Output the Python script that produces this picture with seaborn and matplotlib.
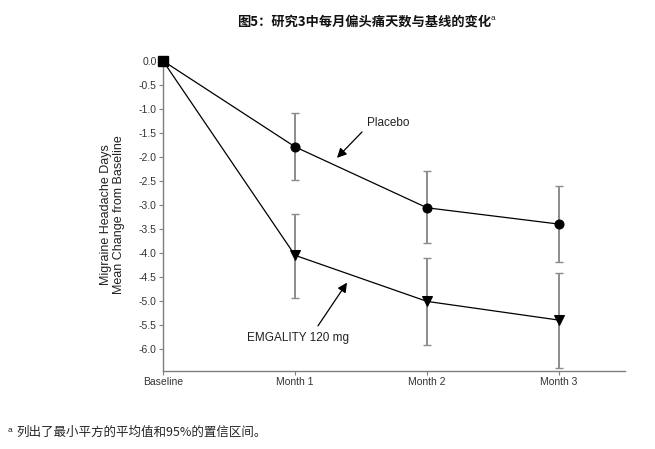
import matplotlib
matplotlib.use("Agg")
import matplotlib.pyplot as plt
import seaborn as sns
import pandas as pd

# Data
visits = ["Baseline", "Month 1", "Month 2", "Month 3"]
placebo_mean = [0.0, -1.79, -3.06, -3.40]
placebo_upper = [0.0, -1.08, -2.29, -2.60]
placebo_lower = [0.0, -2.49, -3.79, -4.18]
emg_mean = [0.0, -4.05, -5.01, -5.40]
emg_upper = [0.0, -3.19, -4.10, -4.42]
emg_lower = [0.0, -4.94, -5.92, -6.39]
yticks = [0.0, -0.5, -1.0, -1.5, -2.0, -2.5, -3.0, -3.5, -4.0, -4.5, -5.0, -5.5, -6.0]

sns.set_theme(style="white")
plt.rcParams['font.family'] = ['Liberation Sans', 'Noto Sans CJK SC', 'DejaVu Sans']

fig = plt.figure(figsize=(6.55, 4.49), dpi=100)
ax = fig.add_axes([163/655, 1-371/449, (625-163)/655, (371-58)/449])

x = list(range(len(visits)))
df = pd.DataFrame({
    "x": x * 2,
    "y": placebo_mean + emg_mean,
    "group": ["Placebo"] * 4 + ["EMGALITY 120 mg"] * 4,
})

# Error bars (skip baseline)
for mean, lo, hi in [(placebo_mean, placebo_lower, placebo_upper),
                     (emg_mean, emg_lower, emg_upper)]:
    xs = x[1:]
    m = mean[1:]
    yerr = [[mm - l for mm, l in zip(m, lo[1:])], [h - mm for mm, h in zip(m, hi[1:])]]
    ax.errorbar(xs, m, yerr=yerr, fmt='none', ecolor='#8c8c8c', elinewidth=1.4,
                capsize=3.2, capthick=1.0, zorder=2)

sns.lineplot(data=df[df.group == "Placebo"], x="x", y="y", ax=ax, color="black",
             linewidth=0.9, marker="o", markersize=6.5, markeredgecolor="black",
             markerfacecolor="black", legend=False, zorder=3)
sns.lineplot(data=df[df.group != "Placebo"], x="x", y="y", ax=ax, color="black",
             linewidth=0.9, marker="v", markersize=6.5, markeredgecolor="black",
             markerfacecolor="black", legend=False, zorder=3)
ax.plot([x[0]], [placebo_mean[0]], marker="s", color="black", markersize=6.5,
        zorder=4, clip_on=False)

ax.set_xlim(0, 3.5)
ax.set_ylim(-6.46, 0.06)
ax.set_xticks(x)
ax.set_xticklabels(visits)
ax.set_yticks(yticks)
ax.set_yticklabels([f"{v:.1f}" for v in yticks])
ax.set_xlabel("")
ax.set_ylabel("Migraine Headache Days\nMean Change from Baseline", fontsize=9,
              color="#222222", labelpad=10, linespacing=1.05)

for s in ["top", "right"]:
    ax.spines[s].set_visible(False)
for s in ["left", "bottom"]:
    ax.spines[s].set_color("#7f7f7f")
    ax.spines[s].set_linewidth(1.0)
ax.tick_params(axis="both", which="major", direction="out", length=3, width=0.8,
               color="#7f7f7f", labelsize=7.5, labelcolor="#333333", pad=1.5,
               left=True, bottom=True)

# Annotations
ax.annotate("", xy=(1.318, -2.02), xytext=(1.508, -1.48),
            arrowprops=dict(arrowstyle="-|>", color="black", lw=0.9,
                            mutation_scale=14, shrinkA=0, shrinkB=0))
ax.text(1.545, -1.29, "Placebo", fontsize=8.5, color="#222222", va="center", ha="left")
ax.annotate("", xy=(1.394, -4.62), xytext=(1.174, -5.52),
            arrowprops=dict(arrowstyle="-|>", color="black", lw=0.9,
                            mutation_scale=14, shrinkA=0, shrinkB=0))
ax.text(0.636, -5.77, "EMGALITY 120 mg", fontsize=8.5, color="#222222", va="center", ha="left")

# Title
fig.text(364/655, 1-22/449, "图5：研究3中每月偏头痛天数与基线的变化", fontsize=9.5,
         fontweight="bold", ha="center", va="center", color="#111111",
         family=['Noto Sans CJK SC', 'DejaVu Sans'])
fig.text(491/655, 1-19/449, "a", fontsize=6, ha="left", va="center",
         family=['Liberation Sans'])

# Footnote
fig.text(8/655, 1-430/449, "a", fontsize=6, ha="left", va="center",
         family=['Liberation Sans'])
fig.text(16/655, 1-432/449, "列出了最小平方的平均值和95%的置信区间。", fontsize=9,
         ha="left", va="center", family=['Noto Sans CJK SC', 'DejaVu Sans'])

fig.savefig("out.png", dpi=100, facecolor="white")
